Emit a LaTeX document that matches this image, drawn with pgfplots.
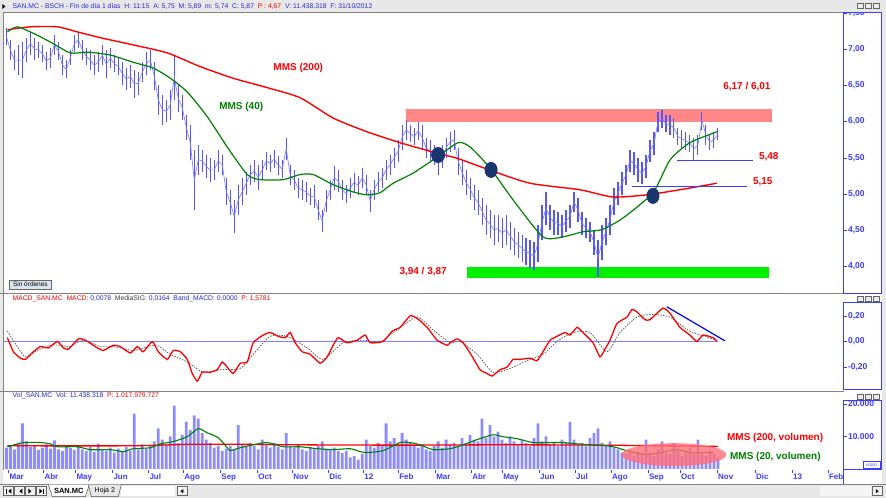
\documentclass[border=0pt]{standalone}
\usepackage{pgfplots}
\pgfplotsset{compat=1.18}
\usepackage{pgfplotstable}
\usepackage{fontspec}
\setmainfont{Liberation Sans}
\definecolor{pblue}{RGB}{85,85,250}
\definecolor{axblue}{RGB}{60,60,255}
\definecolor{hblue}{RGB}{40,40,220}
\definecolor{volblue}{RGB}{140,140,255}
\definecolor{mred}{RGB}{255,0,0}
\definecolor{mgreen}{RGB}{0,128,0}
\definecolor{pinkbar}{RGB}{255,135,135}
\definecolor{pinkell}{RGB}{255,110,120}
\definecolor{limeb}{RGB}{0,240,0}
\definecolor{navyb}{RGB}{25,55,110}
\definecolor{chrome}{RGB}{232,232,232}
\definecolor{framec}{RGB}{130,130,130}
\definecolor{btn}{RGB}{220,228,240}

\pgfplotstableread{
x lo hi
6 7.06 7.29
10 6.85 7.13
14 6.71 6.99
18 6.64 7.06
22 6.60 7.10
26 6.82 7.16
30 6.92 7.24
34 6.85 7.16
38 6.88 7.10
42 6.82 7.06
46 6.71 6.96
50 6.74 7.02
54 6.92 7.20
58 6.85 7.10
62 6.64 6.92
66 6.60 6.85
70 6.78 6.99
74 6.96 7.20
78 7.02 7.24
82 6.85 7.13
86 6.78 7.02
90 6.71 6.99
94 6.64 6.92
98 6.69 6.96
102 6.78 7.06
106 6.60 6.99
110 6.74 7.02
114 6.69 6.92
118 6.64 6.88
122 6.51 6.82
126 6.44 6.74
130 6.47 6.78
134 6.33 6.71
138 6.37 6.69
142 6.55 6.82
146 6.64 6.96
150 6.71 6.99
154 6.44 6.82
158 6.09 6.51
162 5.96 6.37
166 5.99 6.30
170 6.02 6.44
174 6.30 6.92
178 6.13 6.51
182 6.02 6.37
186 5.75 6.09
190 5.47 5.96
194 4.78 5.61
198 5.27 5.68
202 5.31 5.61
206 5.22 5.54
210 5.17 5.50
214 5.20 5.47
218 5.31 5.61
222 5.27 5.54
226 4.85 5.22
230 4.71 5.06
234 4.46 4.92
238 4.71 5.13
242 4.85 5.22
246 4.99 5.31
250 5.13 5.40
254 5.17 5.47
258 5.06 5.40
262 5.20 5.47
266 5.33 5.58
270 5.31 5.54
274 5.36 5.61
278 5.27 5.53
282 5.22 5.47
286 5.47 5.78
290 5.13 5.40
294 5.06 5.33
298 4.95 5.22
302 4.92 5.20
306 4.89 5.17
310 4.85 5.09
314 4.81 5.13
318 4.64 4.92
322 4.48 4.78
326 4.75 5.06
330 4.92 5.20
334 5.06 5.39
338 5.03 5.33
342 4.92 5.20
346 4.88 5.13
350 4.95 5.22
354 5.03 5.29
358 4.99 5.25
362 5.09 5.36
366 4.99 5.27
370 4.75 5.06
374 4.92 5.20
378 5.03 5.31
382 5.09 5.36
386 5.20 5.47
390 5.27 5.54
394 5.36 5.64
398 5.44 5.75
402 5.61 5.96
406 5.75 6.02
410 5.72 5.96
414 5.68 5.91
418 5.75 5.99
422 5.61 5.96
426 5.50 5.78
430 5.44 5.75
434 5.40 5.68
438 5.27 5.64
442 5.36 5.68
446 5.50 5.78
450 5.58 5.86
454 5.61 5.89
458 5.27 5.64
462 5.13 5.47
466 4.99 5.33
470 4.92 5.22
474 4.78 5.13
478 4.71 5.06
482 4.58 4.95
486 4.44 4.85
490 4.40 4.78
494 4.30 4.71
498 4.34 4.71
502 4.26 4.67
506 4.30 4.71
510 4.23 4.62
514 4.16 4.53
518 4.12 4.48
522 4.06 4.44
526 4.02 4.40
530 3.98 4.37
534 3.95 4.34
538 4.06 4.58
542 4.37 4.85
546 4.58 5.03
550 4.51 4.85
554 4.44 4.78
558 4.44 4.75
562 4.40 4.71
566 4.48 4.78
570 4.53 4.85
574 4.75 5.03
578 4.62 4.95
582 4.44 4.75
586 4.40 4.67
590 4.34 4.62
594 4.16 4.51
598 3.86 4.37
602 4.09 4.58
606 4.30 4.67
610 4.44 4.85
614 4.71 5.09
618 4.85 5.17
622 4.99 5.31
626 5.13 5.40
630 5.31 5.61
634 5.27 5.58
638 5.17 5.50
642 5.14 5.44
646 5.22 5.54
650 5.44 5.75
654 5.54 5.86
658 5.86 6.13
662 5.91 6.16
666 5.86 6.09
670 5.82 6.09
674 5.78 6.05
678 5.68 5.91
682 5.64 5.89
686 5.61 5.86
690 5.58 5.82
694 5.47 5.78
698 5.54 5.82
702 5.89 6.13
706 5.68 5.96
710 5.61 5.82
714 5.64 5.86
718 5.75 5.91
}\price

\pgfplotstableread{
x v
6 6.5
10 7.2
14 6.0
18 7.8
22 14.0
26 8.5
30 6.8
34 7.0
38 5.8
42 6.5
46 7.5
50 6.2
54 8.8
58 6.0
62 5.5
66 7.0
70 6.4
74 5.8
78 7.2
82 6.0
86 5.5
90 6.8
94 5.2
98 7.8
102 6.0
106 5.6
110 6.5
114 5.0
118 6.2
122 5.5
126 6.8
130 5.6
134 17.0
138 6.0
142 7.5
146 6.2
150 7.0
154 8.5
158 12.5
162 9.0
166 7.5
170 10.0
174 19.5
178 8.0
182 10.5
186 14.5
190 12.0
194 16.5
198 15.5
202 11.0
206 9.0
210 8.0
214 6.5
218 7.0
222 5.5
226 6.2
230 7.0
234 6.0
238 13.5
242 7.5
246 6.8
250 8.0
254 7.0
258 6.0
262 9.0
266 7.5
270 6.5
274 8.0
278 6.8
282 6.0
286 11.0
290 7.0
294 6.5
298 7.5
302 6.0
306 5.5
310 6.8
314 6.0
318 7.0
322 8.5
326 6.2
330 5.8
334 6.5
338 5.5
342 4.8
346 5.5
350 3.5
354 4.0
358 2.8
362 4.5
366 9.0
370 7.0
374 6.5
378 8.0
382 7.0
386 14.0
390 8.5
394 9.5
398 7.5
402 11.0
406 9.0
410 8.0
414 7.0
418 6.5
422 7.5
426 6.0
430 5.5
434 7.0
438 8.5
442 6.5
446 9.0
450 7.5
454 8.0
458 7.0
462 9.5
466 8.0
470 10.5
474 9.0
478 8.5
482 15.5
486 9.5
490 13.5
494 10.0
498 11.5
502 9.0
506 8.0
510 10.0
514 8.5
518 7.5
522 9.0
526 8.0
530 7.0
534 9.5
538 14.0
542 8.5
546 10.0
550 7.5
554 8.0
558 7.0
562 9.0
566 8.0
570 14.5
574 9.0
578 7.5
582 8.0
586 7.0
590 9.5
594 11.0
598 12.5
602 8.0
606 7.0
610 8.5
614 6.5
618 6.0
622 5.0
626 4.5
630 5.5
634 4.0
638 5.0
642 4.5
646 9.0
650 5.0
654 4.0
658 6.0
662 8.5
666 5.0
670 4.5
674 8.0
678 5.5
682 4.0
686 5.0
690 6.5
694 4.5
698 9.0
702 5.0
706 4.0
710 5.5
714 4.5
718 3.5
}\vol

\pgfplotsset{panel/.style={scale only axis, xmin=3, xmax=844,
  axis line style={draw=none}, ytick pos=right, yticklabel pos=right,
  xtick=\empty, tick align=outside, major tick length=3pt,
  tick style={axblue, line width=0.6pt},
  yticklabel style={font=\bfseries\fontsize{8.5}{9}\selectfont, text=axblue, inner sep=1pt}}}

\begin{document}
\begin{tikzpicture}[x=1pt,y=1pt]
\fill[white] (0pt,0pt) rectangle (886pt,498pt);

% ---------------- price panel
\begin{axis}[panel, at={(3pt,486pt)}, anchor=north west, width=841pt, height=282pt,
  ymin=3.623, ymax=7.515,
  ytick={4,4.5,5,5.5,6,6.5,7,7.5},
  yticklabels={{4,00},{4,50},{5,00},{5,50},{6,00},{6,50},{7,00},{7,50}}]
\fill[pinkbar] (axis cs:406,5.996) rectangle (axis cs:772,6.176);
\fill[limeb] (axis cs:467,3.844) rectangle (axis cs:769,3.995);
\addplot[draw=none, mark=none, error bars/.cd, y dir=plus, y explicit,
  error mark=none, error bar style={draw=pblue, solid, line width=1.1pt}]
  table[x=x, y=lo, y error expr=\thisrow{hi}-\thisrow{lo}] {\price};
\addplot[pblue!80, line width=0.6pt, mark=none]
  table[x=x, y expr=(\thisrow{lo}+\thisrow{hi})/2] {\price};
\addplot[mred, line width=1.4pt, smooth, tension=0.4] coordinates {
(7,7.27) (30,7.31) (57,7.31) (77,7.24) (100,7.16) (133,7.06) (167,6.95) (200,6.76)
(233,6.60) (267,6.47) (300,6.33) (333,6.05) (367,5.86) (400,5.71) (433,5.58) (458,5.49)
(490,5.33) (530,5.15) (580,5.06) (613,4.96) (647,4.99) (680,5.06) (717,5.15)};
\addplot[mgreen, line width=1.2pt, smooth, tension=0.4] coordinates {
(7,7.24) (17,7.31) (33,7.22) (50,7.10) (70,6.95) (87,6.96) (110,6.92) (133,6.82)
(153,6.74) (170,6.60) (187,6.41) (207,6.07) (227,5.65) (247,5.27) (260,5.20) (283,5.20)
(300,5.27) (313,5.27) (333,5.13) (353,5.03) (367,4.99) (380,5.02) (393,5.15) (413,5.29)
(437,5.51) (458,5.71) (470,5.65) (490,5.36) (513,4.92) (543,4.41) (563,4.41) (583,4.48)
(602,4.51) (623,4.67) (653,5.02) (670,5.47) (690,5.71) (717,5.86)};
\fill[navyb] (axis cs:438,5.54) ellipse [x radius=7pt, y radius=8pt];
\fill[navyb] (axis cs:491,5.334) ellipse [x radius=6.5pt, y radius=8pt];
\fill[navyb] (axis cs:653,4.975) ellipse [x radius=6.5pt, y radius=8pt];
\draw[axblue, line width=0.8pt] (axis cs:677,5.472) -- (axis cs:753,5.472);
\draw[axblue, line width=0.8pt] (axis cs:632,5.113) -- (axis cs:747,5.113);
\node[text=mred, font=\bfseries\fontsize{10}{11}\selectfont] at (axis cs:298,6.742) {MMS (200)};
\node[text=mgreen, font=\bfseries\fontsize{10}{11}\selectfont] at (axis cs:241,6.203) {MMS (40)};
\node[text=mred, font=\bfseries\fontsize{10}{11}\selectfont] at (axis cs:747,6.48) {6,17 / 6,01};
\node[text=mred, font=\bfseries\fontsize{10}{11}\selectfont] at (axis cs:423,3.926) {3,94 / 3,87};
\node[text=mred, font=\bfseries\fontsize{10}{11}\selectfont, anchor=west, inner sep=0pt] at (axis cs:759,5.513) {5,48};
\node[text=mred, font=\bfseries\fontsize{10}{11}\selectfont, anchor=west, inner sep=0pt] at (axis cs:753,5.168) {5,15};
\end{axis}

% ---------------- MACD panel
\begin{axis}[panel, at={(3pt,203pt)}, anchor=north west, width=841pt, height=97pt,
  ymin=-0.392, ymax=0.364,
  ytick={-0.2,0,0.2}, yticklabels={{-0,20},{0,00},{0,20}}]
\addplot[color={rgb,255:red,128;green,128;blue,255}, line width=1pt] coordinates {(3,0) (718,0)};
\addplot[black!65, line width=0.7pt, dash pattern=on 1.6pt off 1.2pt, smooth, tension=0.4] coordinates {
(7,0.08) (17,-0.04) (25,-0.12) (37,-0.07) (50,-0.03) (60,-0.03) (70,-0.04) (83,0.01)
(100,-0.04) (113,-0.04) (133,-0.07) (147,-0.04) (157,-0.03) (170,-0.10) (187,-0.16)
(203,-0.24) (220,-0.22) (240,-0.21) (253,-0.10) (270,0.04) (287,0.04) (307,-0.05)
(323,-0.14) (343,-0.01) (363,0.01) (380,0.00) (397,0.09) (417,0.19) (433,0.09)
(450,-0.01) (460,0.00) (477,-0.10) (493,-0.24) (510,-0.21) (530,-0.14) (543,-0.10)
(557,0.00) (573,0.07) (590,0.07) (607,-0.08) (620,0.07) (637,0.19) (653,0.21)
(670,0.19) (690,0.08) (717,0.01)};
\addplot[mred, line width=1.3pt, smooth, tension=0.3] coordinates {
(7,0.03) (13,-0.08) (20,-0.13) (25,-0.14) (33,-0.08) (40,-0.04) (48,-0.05) (57,0.00)
(63,-0.05) (68,-0.06) (78,0.02) (85,0.01) (97,-0.05) (103,-0.07) (113,-0.03) (120,-0.04)
(130,-0.09) (137,-0.04) (143,-0.08) (152,0.00) (158,-0.08) (167,-0.14) (173,-0.07)
(180,-0.08) (187,-0.14) (192,-0.25) (197,-0.31) (202,-0.24) (210,-0.24) (217,-0.22)
(222,-0.16) (227,-0.20) (233,-0.25) (240,-0.17) (247,-0.16) (253,-0.01) (263,0.05)
(270,0.07) (278,0.04) (285,0.03) (290,0.07) (295,-0.01) (302,-0.08) (310,-0.10)
(320,-0.17) (327,-0.12) (333,-0.03) (338,0.03) (347,-0.01) (357,0.01) (365,0.05)
(370,-0.01) (383,0.00) (392,0.08) (400,0.11) (410,0.20) (417,0.18) (427,0.11)
(437,0.01) (447,-0.03) (450,-0.01) (457,0.02) (463,-0.01) (470,-0.09) (480,-0.22)
(487,-0.25) (492,-0.27) (500,-0.22) (507,-0.20) (513,-0.14) (520,-0.14) (530,-0.13)
(537,-0.15) (543,-0.08) (550,0.01) (557,0.04) (565,0.07) (570,0.05) (577,0.11)
(583,0.07) (593,-0.01) (600,-0.12) (605,-0.06) (610,0.01) (617,0.14) (627,0.19)
(632,0.25) (637,0.23) (645,0.17) (650,0.17) (663,0.26) (670,0.22) (680,0.11)
(690,0.05) (697,0.00) (703,0.05) (713,0.03) (717,0.00)};
\draw[blue, line width=1.2pt] (axis cs:667,0.27) -- (axis cs:725,0.005);
\end{axis}

% ---------------- volume panel
\begin{axis}[panel, at={(3pt,105pt)}, anchor=north west, width=841pt, height=77pt,
  ymin=-0.28, ymax=23.49,
  ytick={10,20}, yticklabels={{10.000},{20.000}},
  xtick={8,43,75,112,148,183,220,257,292,328,363,398,435,471,502,539,575,611,648,680,717,755,792,828},
  xticklabels={Mar,Abr,May,Jun,Jul,Ago,Sep,Oct,Nov,Dic,12,Feb,Mar,Abr,May,Jun,Jul,Ago,Sep,Oct,Nov,Dic,13,Feb},
  xtick pos=bottom, xticklabel pos=bottom,
  xticklabel style={anchor=north west, font=\bfseries\fontsize{8}{9}\selectfont, text=axblue, inner sep=0pt, xshift=1pt, yshift=-1pt}]
\addplot[ybar, bar width=2.8pt, fill=volblue, draw=none] table[x=x, y=v] {\vol};
\addplot[mred, line width=1.3pt, smooth] coordinates {
(7,7.1) (130,7.1) (200,7.6) (300,7.4) (400,7.3) (500,7.4) (600,7.3) (718,6.9)};
\addplot[mgreen, line width=1.1pt, smooth, tension=0.4] coordinates {
(7,6.8) (23,8.1) (40,8.1) (50,7.7) (57,6.8) (77,6.8) (90,5.9) (110,5.9) (123,5.3)
(133,6.2) (150,6.5) (160,7.7) (173,8.4) (187,9.9) (198,12.4) (207,11.1) (218,9.6)
(227,6.5) (230,5.6) (240,6.5) (253,7.4) (267,8.1) (283,6.8) (300,6.8) (317,6.2)
(333,5.9) (350,6.2) (360,5.3) (367,5.0) (383,5.6) (400,8.1) (410,8.1) (420,7.4)
(433,5.9) (450,6.2) (463,7.4) (477,9.0) (493,10.5) (503,9.9) (517,9.3) (533,8.1)
(550,8.1) (563,8.1) (577,7.7) (590,7.4) (607,7.1) (617,6.5) (630,5.3) (647,4.4)
(660,5.0) (677,5.9) (690,5.0) (703,5.0) (713,5.0)};
\fill[pinkell, opacity=0.8] (axis cs:674,4.35) ellipse [x radius=52.5pt, y radius=11.5pt];
\node[text=mred, font=\bfseries\fontsize{10}{11}\selectfont, anchor=west, inner sep=0pt] at (axis cs:727,9.6) {MMS (200, volumen)};
\node[text=mgreen, font=\bfseries\fontsize{10}{11}\selectfont, anchor=west, inner sep=0pt] at (axis cs:730,3.7) {MMS (20, volumen)};
\end{axis}

% ---------------- chrome
\fill[chrome] (0pt,486pt) rectangle (886pt,498pt);
\draw[framec] (0pt,486pt) -- (886pt,486pt);
\fill[black] (2pt,489pt) -- (5pt,491.5pt) -- (2pt,494pt) -- cycle;
\node[anchor=west, inner sep=0pt, text=hblue, font=\fontsize{6.8}{7}\selectfont] at (12pt,492pt)
 {SAN.MC - BSCH - Fin de día 1 días\ \ H: 11:15\ \ A: 5,75\ \ M: 5,89\ \ m: 5,74\ \ C: 5,87\ \ \textcolor{mred}{P : 4,67}\ \ V: 11.438.318\ \ F: 31/10/2012};
\fill[chrome] (0pt,0pt) rectangle (2.5pt,486pt);
\fill[chrome] (882.5pt,0pt) rectangle (886pt,486pt);
\draw[framec] (3pt,28pt) -- (3pt,486pt);
\draw[framec, line width=0.8pt] (0pt,204pt) -- (844pt,204pt);
\draw[framec, line width=0.8pt] (0pt,106pt) -- (844pt,106pt);
\draw[axblue, line width=0.8pt] (844pt,486pt) rectangle (882pt,204pt);
\draw[axblue, line width=0.8pt] (844pt,195pt) rectangle (882pt,108pt);
\draw[axblue, line width=0.8pt] (844pt,97pt) rectangle (882pt,28pt);
\draw[axblue, line width=0.8pt] (844pt,28pt) -- (844pt,13pt);
\foreach \yy in {489.5,197,99}{
  \foreach \xx in {857,865,873}{
    \draw[black!60, fill=black!8, line width=0.4pt] (\xx pt,\yy pt) rectangle ++(6pt,5pt);
  }
}
\draw[axblue, line width=0.5pt, fill=white] (863pt,29pt) rectangle (880pt,36pt);
\node[text=axblue, font=\fontsize{4}{4}\selectfont, inner sep=0pt] at (871.5pt,32.5pt) {x1000};
\draw[black!60, fill=btn, line width=0.5pt] (9pt,209pt) rectangle (51pt,218pt);
\node[font=\fontsize{6.5}{7}\selectfont, inner sep=0pt] at (30pt,213.5pt) {Sin órdenes};
\node[anchor=west, inner sep=0pt, font=\fontsize{6.8}{7}\selectfont] at (12pt,199pt)
 {\textcolor{mred}{MACD\_SAN.MC\ \ MACD:} \textcolor{hblue}{0,0078}\ \ \textcolor{black!75}{MediaSIG:} \textcolor{hblue}{0,0164\ \ Band\_MACD: 0,0000}\ \ \textcolor{mred}{P: 1,5781}};
\node[anchor=west, inner sep=0pt, font=\fontsize{6.8}{7}\selectfont] at (12pt,102pt)
 {\textcolor{hblue}{Vol\_SAN.MC\ \ Vol: 11.438.318}\ \ \textcolor{mred}{P: 1.017.979.727}};
\fill[chrome] (0pt,0pt) rectangle (886pt,13pt);
\draw[framec] (0pt,13pt) -- (886pt,13pt);
\foreach \xx in {3,14,25,36}{
  \draw[black!60, fill=black!5, line width=0.4pt] (\xx pt,2pt) rectangle ++(10pt,9pt);
}
\fill[black] (6pt,4pt) rectangle (7pt,9pt); \fill[black] (11pt,4pt) -- (8pt,6.5pt) -- (11pt,9pt) -- cycle;
\fill[black] (22pt,4pt) -- (19pt,6.5pt) -- (22pt,9pt) -- cycle;
\fill[black] (28pt,4pt) -- (31pt,6.5pt) -- (28pt,9pt) -- cycle;
\fill[black] (39pt,4pt) -- (42pt,6.5pt) -- (39pt,9pt) -- cycle; \fill[black] (43pt,4pt) rectangle (44pt,9pt);
\draw[black!70, fill=white, line width=0.5pt] (48pt,13pt) -- (52pt,1pt) -- (85pt,1pt) -- (89pt,13pt);
\node[font=\bfseries\fontsize{7.5}{8}\selectfont, inner sep=0pt] at (68.5pt,7pt) {SAN.MC};
\draw[black!70, fill=chrome, line width=0.5pt] (88pt,13pt) -- (91pt,1pt) -- (118pt,1pt) -- (121pt,13pt);
\node[font=\fontsize{7}{8}\selectfont, inner sep=0pt] at (104.5pt,7pt) {Hoja 2};
\fill[white] (121pt,2pt) rectangle (175pt,12pt);
\draw[black!60, fill=black!5, line width=0.4pt] (177pt,2pt) rectangle ++(10pt,9pt);
\fill[black] (183pt,4.5pt) -- (180pt,6.5pt) -- (183pt,8.5pt) -- cycle;
\fill[black!4] (820pt,2pt) rectangle (871pt,12pt);
\draw[black!60, fill=black!5, line width=0.4pt] (872pt,2pt) rectangle ++(10pt,9pt);
\fill[black] (876pt,4.5pt) -- (879pt,6.5pt) -- (876pt,8.5pt) -- cycle;
\end{tikzpicture}
\end{document}
